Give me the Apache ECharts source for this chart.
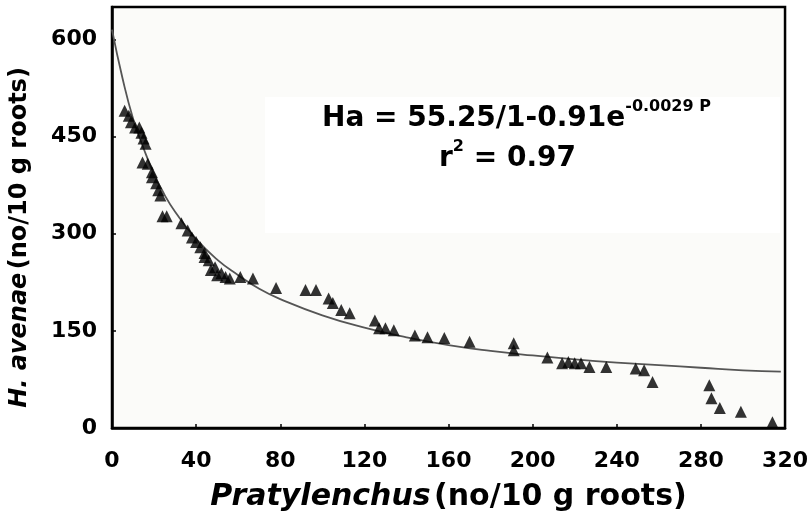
<!DOCTYPE html>
<html>
<head>
<meta charset="utf-8">
<script src="https://cdn.jsdelivr.net/npm/echarts@6/dist/echarts.min.js"></script>
<style>
  html, body { margin: 0; padding: 0; background: #fff; }
  #chart { width: 811px; height: 520px; }
</style>
</head>
<body>
<div id="chart"></div>
<script>
// observed points (Pratylenchus vs H. avenae)
const pratX = [6, 8, 9, 11, 13, 14, 14.5, 15, 16, 17, 19, 19, 21, 22, 23, 24, 26, 33, 36, 38, 40, 42, 44, 44, 46, 47, 49, 50, 52, 54, 56, 61, 67, 78, 92, 97, 103, 105, 109, 113, 125, 127, 130, 134, 144, 150, 158, 170, 191, 191, 207, 214, 217, 220, 223, 227, 235, 249, 253, 257, 284, 285, 289, 299, 314];
const avenaeY = [490, 482, 472, 464, 464, 456, 410, 447, 439, 408, 395, 387, 378, 367, 359, 327, 327, 316, 305, 294, 287, 279, 270, 264, 259, 244, 248, 236, 239, 233, 231, 233, 231, 216, 213, 213, 200, 193, 182, 177, 166, 154, 154, 151, 143, 140, 139, 133, 131, 120, 109, 100, 102, 100, 100, 94, 94, 92, 89, 71, 66, 46, 31, 25, 9];

// fitted curve
const fitX = [0, 5, 10, 15, 20, 25, 30, 40, 50, 60, 70, 80, 100, 120, 140, 160, 180, 200, 220, 240, 260, 280, 300, 318];
const fitY = [615, 540, 478, 432, 392, 360, 334, 292, 260, 236, 215, 199, 174, 155, 140, 128, 119, 112, 106, 101, 97, 93, 89, 87];

const pts = pratX.map((x, i) => [x, avenaeY[i]]);
const fit = fitX.map((x, i) => [x, fitY[i]]);

const font = '"DejaVu Sans", Verdana, sans-serif';

const eqRich = {
  m: { fontSize: 28, fontWeight: 'bold', fontFamily: font, lineHeight: 40, fill: '#000' },
  s: { fontSize: 16, fontWeight: 'bold', fontFamily: font, lineHeight: 24, verticalAlign: 'top', fill: '#000' }
};

const chart = echarts.init(document.getElementById('chart'));
chart.setOption({
  animation: false,
  grid: {
    left: 112, right: 13, top: 7, bottom: 92,
    show: true,
    backgroundColor: '#fbfbf9',
    borderColor: '#000',
    borderWidth: 2.5
  },
  graphic: [
    {
      type: 'rect',
      shape: { x: 265, y: 97, width: 515, height: 136 },
      style: { fill: '#ffffff' },
      z: 1
    },
    {
      type: 'text',
      left: 322, top: 99,
      z: 10,
      style: { text: '{m|Ha = 55.25/1-0.91e}{s|-0.0029 P}', rich: eqRich }
    },
    {
      type: 'text',
      left: 439, top: 139,
      z: 10,
      style: { text: '{m|r}{s|2}{m| = 0.97}', rich: eqRich }
    }
  ],
  xAxis: {
    type: 'value',
    min: 0, max: 320, interval: 40,
    name: '{i|Pratylenchus} {n|(no/10 g roots)}',
    nameLocation: 'middle',
    nameGap: 54,
    nameTextStyle: {
      rich: {
        i: { fontSize: 30, fontWeight: 'bold', fontStyle: 'italic', fontFamily: font, color: '#000' },
        n: { fontSize: 30, fontWeight: 'bold', fontFamily: font, color: '#000' }
      }
    },
    axisLine: { lineStyle: { color: '#000', width: 2.5 } },
    axisTick: { inside: true, length: 4, lineStyle: { color: '#000', width: 1.5 } },
    splitLine: { show: false },
    axisLabel: { margin: 22, color: '#000', fontSize: 22, fontWeight: 'bold', fontFamily: font }
  },
  yAxis: {
    type: 'value',
    min: 0, max: 650, interval: 150,
    name: '{i|H. avenae} {n|(no/10 g roots)}',
    nameLocation: 'middle',
    nameRotate: 90,
    nameGap: 80,
    nameTextStyle: {
      padding: [0, 40, 0, 0],
      rich: {
        i: { fontSize: 24, fontWeight: 'bold', fontStyle: 'italic', fontFamily: font, color: '#000' },
        n: { fontSize: 24, fontWeight: 'bold', fontFamily: font, color: '#000' }
      }
    },
    axisLine: { lineStyle: { color: '#000', width: 2.5 } },
    axisTick: { inside: true, length: 4, lineStyle: { color: '#000', width: 1.5 } },
    splitLine: { show: false },
    axisLabel: { margin: 15, color: '#000', fontSize: 22, fontWeight: 'bold', fontFamily: font, showMaxLabel: false }
  },
  series: [
    {
      type: 'line',
      data: fit,
      smooth: true,
      showSymbol: false,
      z: 3,
      lineStyle: { color: '#555', width: 1.8 }
    },
    {
      type: 'scatter',
      data: pts,
      symbol: 'triangle',
      symbolSize: 12,
      z: 4,
      itemStyle: { color: '#000' }
    }
  ]
});
</script>
</body>
</html>
